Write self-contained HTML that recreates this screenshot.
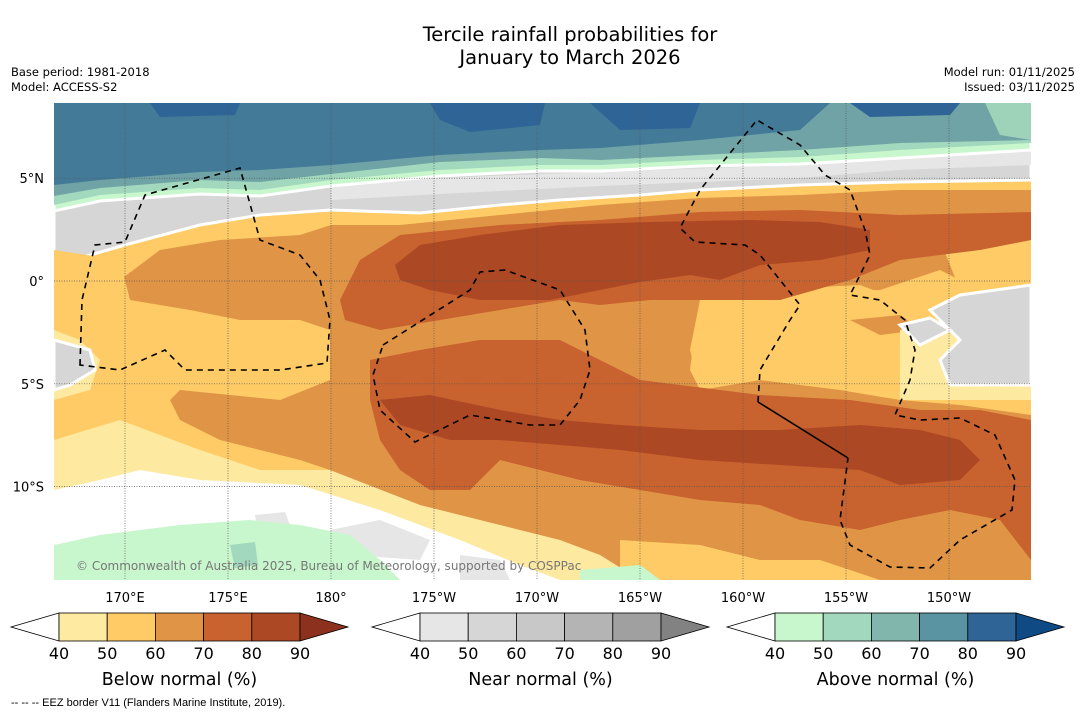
<!DOCTYPE html>
<html><head><meta charset="utf-8"><style>
body{margin:0;background:#fff;width:1085px;height:713px;overflow:hidden;font-family:"DejaVu Sans","Liberation Sans",sans-serif}
svg{position:absolute;left:0;top:0}
</style></head><body>
<svg id="root" width="1085" height="713" viewBox="0 0 1085 713">
<defs><clipPath id="mc"><rect x="54" y="103" width="977" height="477"/></clipPath></defs>
<text x="570" y="41" font-size="19.5" text-anchor="middle">Tercile rainfall probabilities for</text>
<text x="570" y="64" font-size="19.5" text-anchor="middle">January to March 2026</text>
<text x="11" y="76" font-size="11.5">Base period: 1981-2018</text>
<text x="11" y="91" font-size="11.5">Model: ACCESS-S2</text>
<text x="1075" y="76" font-size="11.5" text-anchor="end">Model run: 01/11/2025</text>
<text x="1075" y="91" font-size="11.5" text-anchor="end">Issued: 03/11/2025</text>
<g clip-path="url(#mc)">
<rect x="54" y="103" width="977" height="477" fill="#fecb66"/>
<path fill="#d6d6d6" stroke="#fff" stroke-width="3" d="M54,103 L1031,103 L1031,180 L900,182 L800,185 L700,190 L640,195 L560,200 L500,205 L420,213 L331,210 L260,215 L200,225 L125,245 L80,258 L54,270 Z"/>
<path fill="#e6e6e6" d="M331,185 L440,178 L600,172 L800,165 L1031,150 L1031,165 L900,170 L800,178 L600,186 L440,194 L331,200 Z"/>
<path fill="#c8f7cd" stroke="#fff" stroke-width="3" d="M54,103 L1031,103 L1031,150 L900,158 L800,164 L700,166 L600,171 L540,171 L440,176 L331,186 L260,196 L200,194 L100,201 L54,211 Z"/>
<path fill="#a2d8bd" d="M54,103 L1031,103 L1031,143 L900,150 L800,157 L700,160 L600,165 L540,165 L440,170 L331,180 L260,190 L200,188 L100,195 L54,205 Z"/>
<path fill="#6fa3a6" d="M54,103 L1031,103 L1031,140 L900,143 L800,150 L700,155 L600,160 L540,158 L440,162 L331,174 L260,182 L200,180 L100,188 L54,196 Z"/>
<path fill="#427a98" d="M54,103 L830,103 L800,130 L700,140 L600,148 L540,150 L440,155 L331,165 L260,170 L200,172 L100,180 L54,185 Z"/>
<path fill="#2f6497" d="M150,103 L240,103 L235,115 L160,117 Z M430,103 L545,103 L540,125 L470,132 L440,120 Z M590,103 L700,103 L690,128 L620,130 Z M850,103 L960,103 L950,115 L870,117 Z"/>
<path fill="#9fd3b9" d="M985,103 L1031,103 L1031,140 L1000,135 Z"/>
<path fill="#e09445" d="M130,300 L120,280 L160,250 L220,240 L300,235 L331,225 L400,225 L500,215 L600,205 L700,198 L800,195 L900,190 L1031,190 L1031,300 L980,290 L940,270 L880,290 L800,290 L740,290 L700,300 L690,350 L700,390 L760,380 L840,390 L900,400 L960,405 L1031,415 L1031,580 L620,580 L600,555 L560,545 L500,545 L450,530 L400,520 L340,500 L330,470 L300,460 L260,450 L220,440 L180,420 L170,400 L180,390 L280,400 L330,380 L330,330 L300,320 L240,320 L190,310 Z"/>
<path fill="#fecb66" d="M700,300 L760,290 L860,285 L900,300 L910,330 L900,360 L870,380 L820,385 L760,380 L700,390 L690,370 L695,330 Z M54,250 L120,260 L130,300 L100,330 L54,330 Z M940,240 L1031,230 L1031,300 L960,290 Z M620,540 L700,545 L760,560 L820,560 L880,580 L620,580 Z"/>
<path fill="#e09445" d="M850,320 L900,315 L920,330 L880,335 Z"/>
<path fill="#fee9a0" d="M54,330 L80,340 L100,360 L90,390 L54,400 Z M900,330 L1031,300 L1031,400 L900,400 Z"/>
<path fill="#d6d6d6" stroke="#fff" stroke-width="3" d="M930,310 L960,295 L1031,285 L1031,385 L950,385 L940,360 L960,340 Z M900,325 L930,318 L950,330 L920,345 Z M54,340 L90,350 L95,370 L70,385 L54,390 Z"/>
<path fill="#c8622f" d="M340,300 L360,260 L400,235 L500,225 L600,220 L700,212 L800,210 L900,215 L1031,212 L1031,240 L980,250 L900,260 L850,280 L780,300 L700,300 L650,300 L600,305 L560,300 L500,310 L440,320 L380,330 L345,320 Z"/>
<path fill="#c8622f" d="M370,360 L420,350 L480,340 L560,340 L600,360 L640,380 L680,385 L760,395 L850,400 L920,410 L980,410 L1031,420 L1031,560 L1000,520 L950,510 L900,520 L860,530 L800,520 L760,505 L700,500 L640,490 L580,480 L540,470 L500,460 L470,490 L430,490 L400,470 L380,440 L370,400 Z"/>
<path fill="#ad4824" d="M395,265 L420,245 L480,235 L560,225 L650,222 L750,220 L820,222 L870,230 L870,250 L820,260 L760,265 L720,280 L690,275 L640,282 L600,290 L550,300 L480,300 L430,290 L400,280 Z"/>
<path fill="#ad4824" d="M380,400 L430,395 L500,410 L560,420 L620,425 L700,430 L780,430 L860,425 L920,430 L960,440 L980,460 L960,480 L900,485 L860,470 L780,465 L700,460 L620,450 L560,445 L500,440 L450,440 L400,425 Z"/>
<path fill="#fee9a0" d="M54,440 L120,420 L200,450 L260,470 L330,470 L420,505 L480,520 L560,540 L600,555 L640,580 L54,580 Z"/>
<path fill="#ffffff" d="M54,490 L100,480 L140,470 L200,480 L300,485 L380,510 L460,540 L520,565 L560,580 L54,580 Z"/>
<path fill="#e6e6e6" d="M255,515 L285,512 L292,530 L258,532 Z M330,530 L380,520 L430,540 L420,560 L350,555 Z M460,555 L500,560 L510,580 L460,580 Z"/>
<path fill="#c8f7cd" d="M54,545 L100,535 L180,525 L250,520 L300,525 L350,535 L380,560 L400,580 L54,580 Z M580,570 L640,565 L660,580 L580,580 Z"/>
<path fill="#a2d8bd" d="M230,545 L255,542 L258,565 L235,568 Z"/>
<g id="grid" stroke="#555" stroke-width="0.7" stroke-dasharray="1,1.5"></g>
<g fill="none" stroke="#000" stroke-width="1.6" stroke-dasharray="6,5">
<path d="M80,365 L82,300 L95,245 L125,242 L145,195 L240,168 L260,240 L300,255 L320,280 L330,320 L327,363 L280,370 L185,370 L165,350 L120,370 Z"/>
<path d="M383,345 L470,290 L480,272 L505,270 L560,290 L585,330 L590,370 L580,400 L560,425 L530,425 L470,415 L415,442 L380,410 L373,375 Z"/>
<path d="M758,402 L760,370 L790,320 L800,305 L780,280 L760,255 L745,245 L695,242 L680,228 L700,190 L757,120 L800,145 L825,175 L850,190 L865,230 L870,255 L850,295 L880,300 L905,320 L915,350 L910,380 L895,415 L920,420 L960,418 L995,435 L1015,480 L1012,510 L960,540 L930,568 L890,567 L850,545 L840,520 L848,458"/>
<path d="M758,402 L848,458" stroke-dasharray="none"/>
</g>
<text x="76" y="570" font-size="12" fill="#777">© Commonwealth of Australia 2025, Bureau of Meteorology, supported by COSPPac</text>
</g>
<g id="axes" font-size="13"></g>
<g id="cbars"></g>
<text x="11" y="706" font-size="11" font-family="Liberation Sans Narrow, Liberation Sans, sans-serif">--  --  -- EEZ border V11 (Flanders Marine Institute, 2019).</text>
</svg>
<script>
const lonTicks=[170,175,180,-175,-170,-165,-160,-155,-150];
const lonLabels=["170°E","175°E","180°","175°W","170°W","165°W","160°W","155°W","150°W"];
const latTicks=[5,0,-5,-10];
const latLabels=["5°N","0°","5°S","10°S"];
const cbTicks=["40","50","60","70","80","90"];
const belowColors=["#feeaa0","#fecb66","#e09445","#c8622f","#ad4824","#8c311d"];
const nearColors=["#e6e6e6","#d6d6d6","#c8c8c8","#b4b4b4","#a0a0a0","#828282"];
const aboveColors=["#c8f7cd","#a2d8bd","#80b6ac","#5a94a2","#2f6497","#0f4a85"];
const cbTitles=["Below normal (%)","Near normal (%)","Above normal (%)"];
const NS="http://www.w3.org/2000/svg";
function xLon(l){let d=l<0?360+l:l;return 125+(d-170)*20.6;}
function yLat(l){return 281-l*20.56;}
function mk(t,a,p){const e=document.createElementNS(NS,t);for(const k in a)e.setAttribute(k,a[k]);p.appendChild(e);return e;}
const grid=document.getElementById('grid'),axes=document.getElementById('axes');
lonTicks.forEach((l,i)=>{const x=xLon(l);
 const g=mk('line',{x1:x,x2:x,y1:103,y2:580},grid);
 
 
 const t=mk('text',{x:x,y:602,'text-anchor':'middle'},axes);t.textContent=lonLabels[i];
 
 });
latTicks.forEach((l,i)=>{const y=yLat(l);
 const g=mk('line',{x1:54,x2:1031,y1:y,y2:y},grid);
 
 
 const t=mk('text',{x:44,y:y+5,'text-anchor':'end'},axes);t.textContent=latLabels[i];
 
 });
const cb=document.getElementById('cbars');
[[59,belowColors],[420,nearColors],[775,aboveColors]].forEach(([x0,cols],k)=>{
 const w=48.2,y0=613,h=28;
 const lt=mk('path',{d:`M${x0},${y0} L${x0-48},${y0+h/2} L${x0},${y0+h} Z`,fill:'#fff',stroke:'#000','stroke-width':0.8},cb);
 
 
 for(let i=0;i<5;i++){const r=mk('rect',{x:x0+i*w,y:y0,width:w,height:h,fill:cols[i],stroke:'#000','stroke-width':0.8},cb);
  
  }
 const xe=x0+5*w;
 const rt=mk('path',{d:`M${xe},${y0} L${xe+48},${y0+h/2} L${xe},${y0+h} Z`,fill:cols[5],stroke:'#000','stroke-width':0.8},cb);
 
 
 cbTicks.forEach((s,i)=>{const t=mk('text',{x:x0+i*w,y:659,'font-size':16,'text-anchor':'middle'},cb);t.textContent=s;
  
  });
 const tt=mk('text',{x:x0+2.5*w,y:685,'font-size':17.5,'text-anchor':'middle'},cb);tt.textContent=cbTitles[k];
 
 
});
</script>
</body></html>
